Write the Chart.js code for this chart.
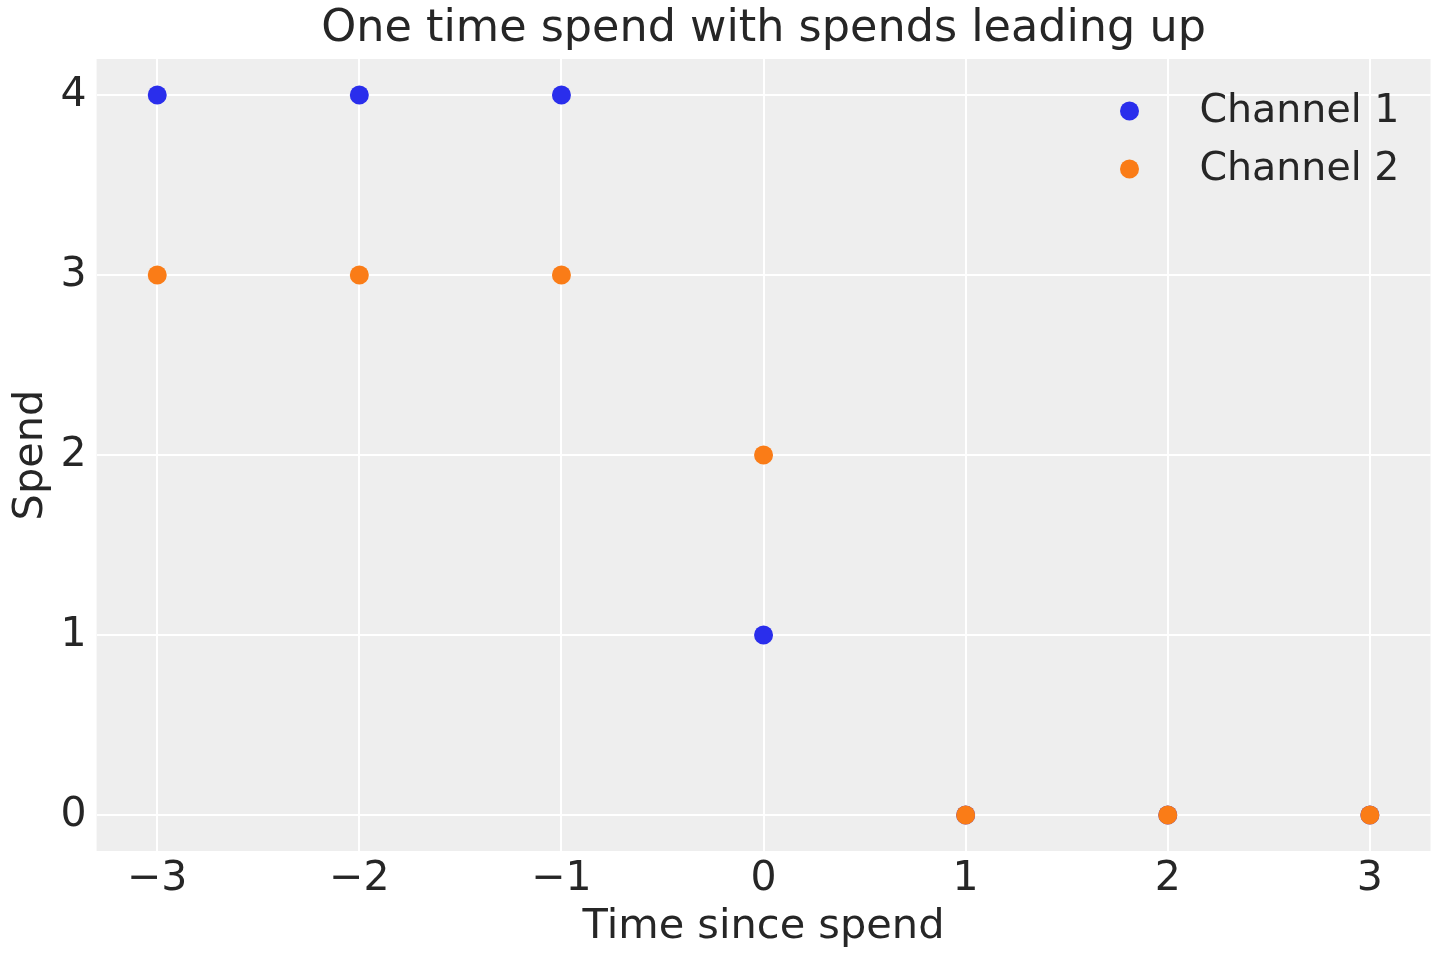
<!DOCTYPE html>
<html>
<head>
<meta charset="utf-8">
<script src="https://cdn.jsdelivr.net/npm/chart.js@4.4.1/dist/chart.umd.min.js"></script>
<style>
html,body{margin:0;padding:0;background:#fff;}
#wrap{width:1440px;height:960px;position:relative;}
</style>
</head>
<body>
<div id="wrap"><canvas id="c"></canvas></div>
<script>
const timeSinceSpend = [-3, -2, -1, 0, 1, 2, 3];
const channel1 = [4, 4, 4, 1, 0, 0, 0];
const channel2 = [3, 3, 3, 2, 0, 0, 0];
const seriesNames = ['Channel 1', 'Channel 2'];
const xTickValues = [-3, -2, -1, 0, 1, 2, 3];
const yTickValues = [0, 1, 2, 3, 4];
const titleText = 'One time spend with spends leading up';
const xLabel = 'Time since spend';
const yLabel = 'Spend';

const BLUE = '#2a2eec', ORANGE = '#fa7c17', TXT = '#262626';
const FONT = "'DejaVu Sans', sans-serif";

const fmt = v => (v < 0 ? '\u2212' + Math.abs(v) : String(v));

const bgPlugin = {
  id: 'bg',
  beforeDraw(chart) {
    const {ctx, chartArea: a} = chart;
    ctx.save();
    ctx.fillStyle = '#ffffff';
    ctx.fillRect(0, 0, chart.width, chart.height);
    ctx.fillStyle = '#eeeeee';
    ctx.fillRect(a.left, a.top, a.right - a.left, a.bottom - a.top);
    ctx.restore();
  }
};

const legendPlugin = {
  id: 'mplLegend',
  afterDraw(chart) {
    const {ctx, chartArea: a} = chart;
    ctx.save();
    ctx.font = '39.5px ' + FONT;
    ctx.textBaseline = 'middle';
    ctx.textAlign = 'left';
    chart.data.datasets.forEach((ds, i) => {
      const cy = a.top + 52 + i * 58;
      const mx = a.right - 301;
      ctx.beginPath();
      ctx.fillStyle = ds.backgroundColor;
      ctx.arc(mx, cy, 9.5, 0, Math.PI * 2);
      ctx.fill();
      ctx.fillStyle = TXT;
      ctx.fillText(ds.label, a.right - 231, cy + 1);
    });
    ctx.restore();
  }
};

const toPoints = ys => timeSinceSpend.map((x, i) => ({x, y: ys[i]}));

new Chart(document.getElementById('c'), {
  type: 'scatter',
  data: {
    datasets: [
      {label: seriesNames[0], data: toPoints(channel1), backgroundColor: BLUE, borderWidth: 0, pointRadius: 9.5, pointHoverRadius: 9.5, order: 1},
      {label: seriesNames[1], data: toPoints(channel2), backgroundColor: ORANGE, borderWidth: 0, pointRadius: 9.5, pointHoverRadius: 9.5, order: 0}
    ]
  },
  options: {
    responsive: true,
    maintainAspectRatio: false,
    devicePixelRatio: 1,
    animation: false,
    events: [],
    layout: {padding: {left: 0, right: 8, top: 0, bottom: 0}},
    plugins: {
      legend: {display: false},
      tooltip: {enabled: false},
      title: {
        display: true, text: titleText, color: TXT, fullSize: false,
        font: {family: FONT, size: 44.5, weight: 'normal'},
        padding: {top: 3, bottom: 2.6}
      }
    },
    scales: {
      x: {
        type: 'linear', min: -3.3, max: 3.3,
        afterBuildTicks: s => { s.ticks = xTickValues.map(v => ({value: v})); },
        afterFit: s => { s.height = 109; },
        ticks: {callback: v => fmt(v), color: TXT, font: {family: FONT, size: 41}, padding: 4, maxRotation: 0, autoSkip: false},
        grid: {color: '#ffffff', lineWidth: 2, drawTicks: false},
        border: {display: false},
        title: {display: true, text: xLabel, color: TXT, font: {family: FONT, size: 41.5}, padding: {top: 0, bottom: 8}}
      },
      y: {
        type: 'linear', min: -0.2, max: 4.2,
        afterBuildTicks: s => { s.ticks = yTickValues.map(v => ({value: v})); },
        afterFit: s => { s.width = 96.6; },
        ticks: {callback: v => fmt(v), color: TXT, font: {family: FONT, size: 41}, padding: 10, autoSkip: false},
        grid: {color: '#ffffff', lineWidth: 2, drawTicks: false},
        border: {display: false},
        title: {display: true, text: yLabel, color: TXT, font: {family: FONT, size: 41.5}, padding: {top: 6, bottom: 0}}
      }
    }
  },
  plugins: [bgPlugin, legendPlugin]
});
</script>
</body>
</html>
